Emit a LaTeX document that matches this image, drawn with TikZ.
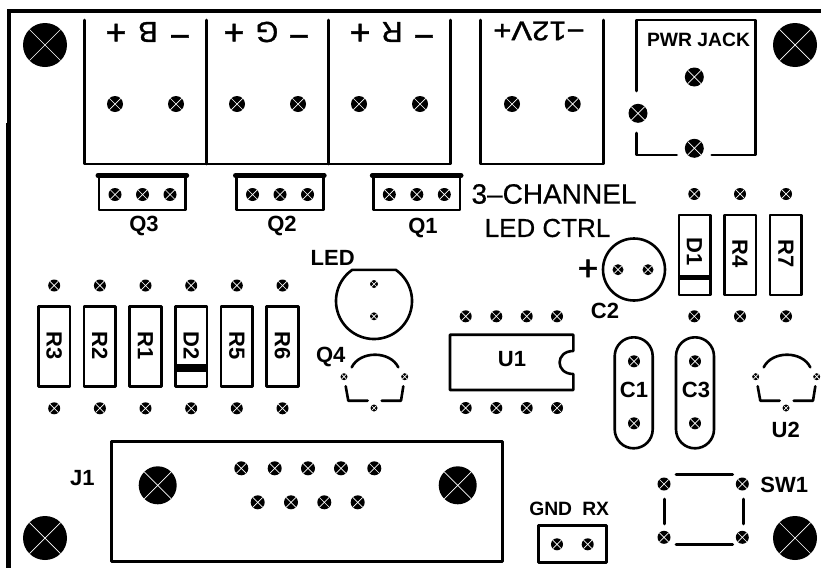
\documentclass[tikz,border=0pt]{standalone}
\usepackage{fontspec}
\setmainfont{Liberation Sans}
\newfontfamily\medfont[FakeBold=0.6]{Liberation Sans}
\newfontfamily\heavyfont[FakeBold=1.2]{Liberation Sans}
\tikzset{
  outline/.style={line width=2.6pt,line join=round,line cap=round},
  pad/.style={circle,fill=black,inner sep=0pt,minimum size=#1,
    path picture={\draw[white,line width=0.7pt]
      (path picture bounding box.north east)--(path picture bounding box.south west)
      (path picture bounding box.north west)--(path picture bounding box.south east);}},
  lab/.style={inner sep=0pt,font=\fontsize{22}{22}\selectfont\bfseries},
  labsm/.style={inner sep=0pt,font=\fontsize{19.3}{20}\selectfont\bfseries},
  big/.style={inner sep=0pt,font=\fontsize{#1}{#1}\selectfont\heavyfont},
  med/.style={inner sep=0pt,font=\fontsize{#1}{#1}\selectfont\medfont},
  bar/.style={line width=5pt,line cap=round},
}
\begin{document}
\begin{tikzpicture}[x=1pt,y=-1pt]
\useasboundingbox (0,0) rectangle (821,568);
\fill[white] (0,0) rectangle (821,568);
% board edge
\draw[line width=4.4pt] (821,11) -- (9,11) -- (9,568);
\fill (6,123) rectangle (8,568);
% big holes
\node[pad=44pt] (mtl) at (45,45) {};
\node[pad=44pt] (mtr) at (795,45) {};
\node[pad=44pt] (mbl) at (45,538) {};
\node[pad=44pt] (mbr) at (795,538) {};
% terminal blocks
\draw[outline] (84.5,20) -- (84.5,164) -- (450.7,164) -- (450.7,20)
  (206.5,20) -- (206.5,164) (328.5,20) -- (328.5,164);
\draw[outline] (480.7,20) -- (480.7,164) -- (603.3,164) -- (603.3,20);
\foreach \n/\x in {a/115,b/176,c/237,d/298,e/359,f/420,g/512,h/572.7}
  \node[pad=16pt] (term\n) at (\x,104) {};
\foreach \n/\x/\t in {tb2/148/B,tb5/267/G,tb8/392/R}
  \node[big=29,rotate=180] (\n) at (\x,32) {\t};
\foreach \n/\x/\t in {tb1/116/+,tb3/180/−,tb4/234/+,tb6/299/−,tb7/360/+,tb9/424/−}
  \node[big=36,rotate=180] (\n) at (\x,31) {\t};
\node[big=27,rotate=180,xscale=1.15] (v12) at (539,31) {−12V+};
% transistor headers
\foreach \n/\x in {qc/99,qb/236.5,qa/373.3}{
  \draw[outline] (\x,176) -- (\x,210) -- (\x+86.7,210) -- (\x+86.7,176);
  \draw[bar] (\x-1,175.5) -- (\x+87.7,175.5);
  \node[pad=13pt] (\n1) at (\x+16,194.5) {};
  \node[pad=13pt] (\n2) at (\x+43.5,194.5) {};
  \node[pad=13pt] (\n3) at (\x+71,194.5) {};
}
\node[lab] (q3) at (144,226) {Q3};
\node[lab] (q2) at (282,226) {Q2};
\node[lab] (q1) at (423,228) {Q1};
% title
\node[med=28] (title1) at (554,194) {3–CHANNEL};
\node[med=26] (title2) at (547.5,228) {LED CTRL};
% power jack
\draw[outline] (636.7,91) -- (636.7,20) -- (755.7,20) -- (755.7,155) -- (711.7,155);
\draw[outline] (636.7,133) -- (636.7,155) -- (676.7,155);
\node[pad=19pt] (pj1) at (694.3,77) {};
\node[pad=19pt] (pj2) at (638,113.3) {};
\node[pad=19pt] (pj3) at (694.3,148.3) {};
\node[labsm] (pjl) at (698.5,40) {PWR JACK};
% right vertical parts
\foreach \n/\x in {d/679,r/724.3,s/770}
  \draw[outline] (\x,215) rectangle (\x+31.5,295);
\draw[line width=5pt] (679,277.5) -- (710.5,277.5);
\foreach \n/\x in {a/694.3,b/740,c/786}{
  \node[pad=12pt] (rt\n) at (\x,194) {};
  \node[pad=12pt] (rb\n) at (\x,316.3) {};
}
\node[lab,rotate=-90] (d1) at (694.5,252) {D1};
\node[lab,rotate=-90] (r4) at (740,254) {R4};
\node[lab,rotate=-90] (r7) at (786,254) {R7};
% C2
\draw[outline] (634,269.5) circle[radius=31pt];
\node[pad=11pt] (c2a) at (618,269.7) {};
\node[pad=11pt] (c2b) at (648,269.7) {};
\node[big=36] (c2p) at (588,270) {+};
\node[lab] (c2) at (605,310.7) {C2};
% left resistors
\foreach \n/\x in {a/54.2,b/99.9,c/145.5,d/191.2,e/236.8,f/282.5}{
  \draw[outline] (\x-15.8,306.7) rectangle (\x+15.8,386.7);
  \node[pad=12pt] (lt\n) at (\x,285.5) {};
  \node[pad=12pt] (lb\n) at (\x,408.3) {};
}
\draw[line width=7.5pt] (175.4,368) -- (207,368);
\foreach \n/\x/\t in {r3/54.2/R3,r2/99.9/R2,r1/145.5/R1,d2/191.2/D2,r5/236.8/R5,r6/282.5/R6}
  \node[lab,rotate=-90] (\n) at (\x,345.5) {\t};
% LED
\draw[outline,shift={(374,301)}] plot[domain=125:415,samples=90] ({38*cos(\x)},{38*sin(-\x)}) -- cycle;
\node[pad=8pt] (la) at (374,284) {};
\node[pad=8pt] (lk) at (374,316.3) {};
\node[lab] (led) at (332.7,258) {LED};
% Q4
\draw[outline] (351.7,367.3) .. controls (360,350.5) and (390,350.5) .. (398.3,367.3);
\draw[outline] (345.7,386.3) -- (348.3,400.7) -- (367.7,400.7)
  (381.7,400.7) -- (401,400.7) -- (403.3,386.3);
\node[pad=7pt] (q4a) at (344,376.7) {};
\node[pad=7pt] (q4b) at (404.7,376.7) {};
\node[pad=7pt] (q4c) at (374,408) {};
\node[lab] (q4) at (330.7,356.7) {Q4};
% U2
\draw[outline] (763.7,367.3) .. controls (772,350.5) and (802,350.5) .. (810.3,367.3);
\draw[outline] (757.7,386.3) -- (760.3,400.7) -- (779.7,400.7)
  (793.7,400.7) -- (813,400.7) -- (815.3,386.3);
\node[pad=7pt] (u2a) at (755.7,376.7) {};
\node[pad=7pt] (u2b) at (816.7,376.7) {};
\node[pad=7pt] (u2c) at (786,408) {};
\node[lab] (u2) at (785.7,429.7) {U2};
% U1
\draw[outline] (573.3,351) -- (573.3,334.7) -- (450,334.7) -- (450,390) -- (573.3,390) -- (573.3,374)
  .. controls (555,374) and (555,351) .. (573.3,351);
\foreach \n/\x in {a/465.7,b/496.3,c/526.7,d/557}{
  \node[pad=12pt] (ut\n) at (\x,316.3) {};
  \node[pad=12pt] (ub\n) at (\x,408) {};
}
\node[lab] (u1) at (512,359) {U1};
% C1 C3
\draw[outline,rounded corners=18.9pt] (614.7,337.3) rectangle (652.7,448.3);
\draw[outline,rounded corners=18.9pt] (676,337.3) rectangle (714,448.3);
\foreach \n/\x in {a/634,b/695}{
  \node[pad=12pt] (ct\n) at (\x,361.3) {};
  \node[pad=12pt] (cb\n) at (\x,423.3) {};
}
\node[lab] (c1) at (634,389.7) {C1};
\node[lab] (c3) at (696,389.7) {C3};
% J1
\draw[outline] (111.7,441.7) rectangle (502.7,561.7);
\node[pad=38pt] (j1a) at (157.7,485.3) {};
\node[pad=38pt] (j1b) at (457.7,485.3) {};
\foreach \n/\x in {a/241.3,b/274.7,c/308,d/341,e/374.3}
  \node[pad=14pt] (jt\n) at (\x,468.3) {};
\foreach \n/\x in {a/257.7,b/291,c/324.3,d/357.7}
  \node[pad=14pt] (jb\n) at (\x,502.3) {};
\node[lab] (j1) at (82.3,478.3) {J1};
% serial header
\draw[outline] (538.7,525.7) rectangle (606.7,562.3);
\node[pad=12pt] (gp) at (557,544.3) {};
\node[pad=12pt] (rp) at (587.7,544.3) {};
\node[labsm] (gnd) at (550.7,509) {GND};
\node[labsm] (rx) at (595.7,509) {RX};
% SW1
\foreach \n/\x/\y in {a/664/484,b/742.3/484,c/664/537.3,d/742.3/537.3}
  \node[pad=13pt] (sw\n) at (\x,\y) {};
\draw[outline] (676,474.3) -- (732.7,474.3) (676,544.3) -- (732.7,544.3)
  (664.3,499) -- (664.3,524) (743.3,499) -- (743.3,524);
\node[lab] (sw) at (784.3,485) {SW1};
\end{tikzpicture}
\end{document}
